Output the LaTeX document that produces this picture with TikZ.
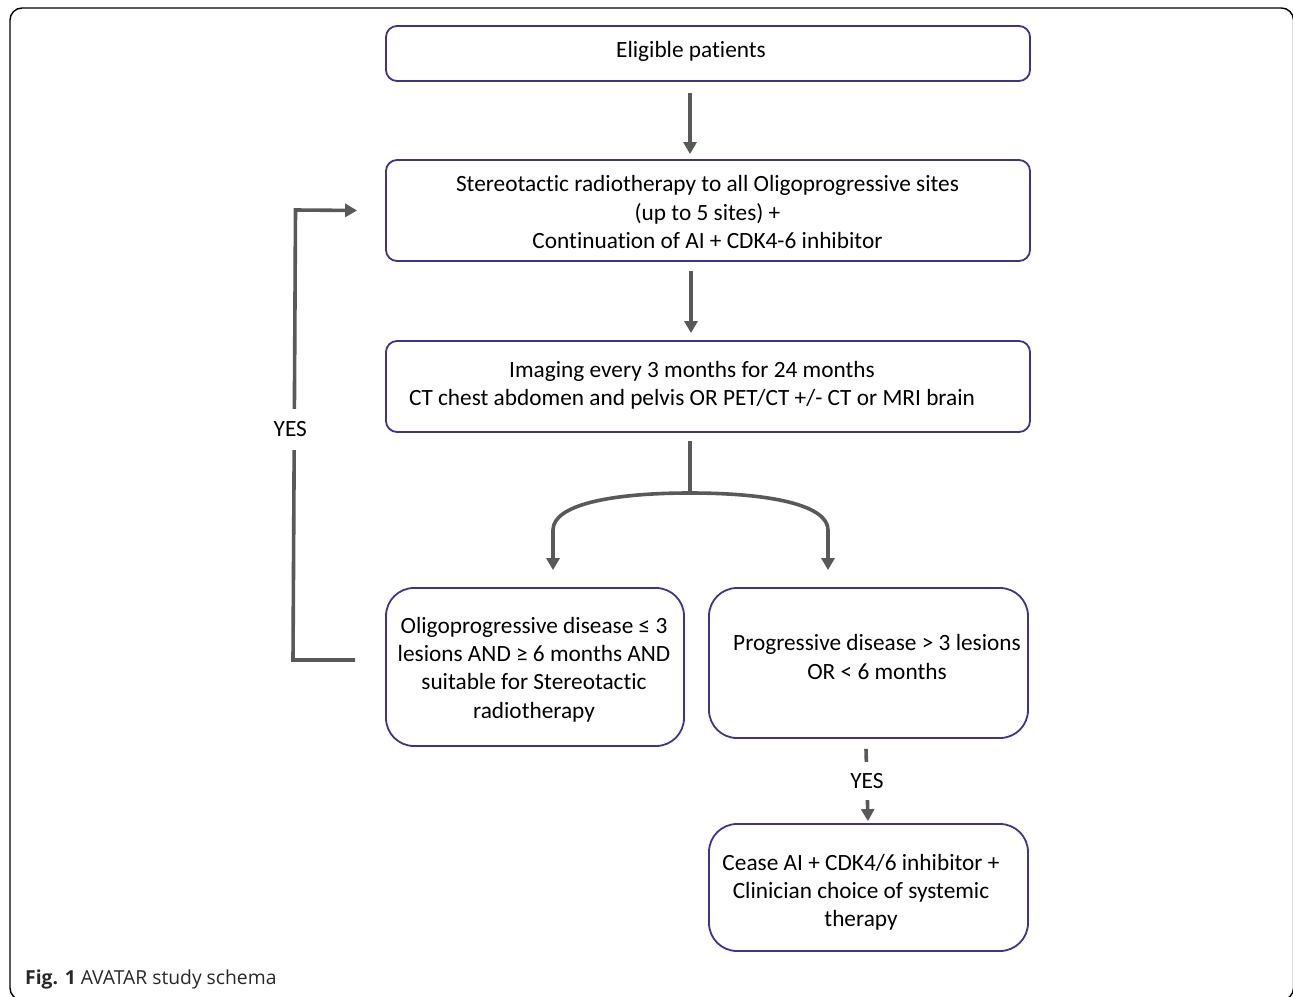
\documentclass[tikz,border=0pt]{standalone}
\usepackage{fontspec}
\setmainfont[Ligatures={NoCommon,NoContextual}]{Carlito}
\newfontfamily\capfont{Open Sans}
\usetikzlibrary{arrows.meta}
\definecolor{boxc}{RGB}{62,52,140}
\definecolor{arrc}{RGB}{89,89,89}
\definecolor{capc}{RGB}{40,40,40}
\begin{document}
\begin{tikzpicture}[x=1pt,y=-1pt,
  box/.style={draw=boxc, line width=1.8pt, rounded corners=11pt, inner sep=0pt},
  rbox/.style={box, rounded corners=28pt},
  txt/.style={align=center, inner sep=0pt, font=\fontsize{23.3}{28.2}\selectfont},
  arr/.style={draw=arrc, line width=3.6pt, -{Triangle[length=12pt,width=13pt]}},
  ln/.style={draw=arrc, line width=3.6pt},
  yes/.style={fill=white, inner xsep=2pt, inner ysep=13pt, font=\fontsize{23.3}{28.2}\selectfont}]
\useasboundingbox (0,0) rectangle (1293,996);
\clip (0,0) rectangle (1293,996);
% outer frame
\draw[black, line width=1.4pt, rounded corners=12pt] (10,8) rectangle (1293.5,1000);
% boxes
\node[box, minimum width=644pt, minimum height=55pt] (elig) at (708,53.5) {};
\node[box, minimum width=644pt, minimum height=101pt] (stereo) at (708,210.5) {};
\node[box, minimum width=644pt, minimum height=91pt] (img) at (708,386.5) {};
\node[rbox, minimum width=298pt, minimum height=158pt] (oligo) at (535,667) {};
\node[rbox, minimum width=319pt, minimum height=150pt] (prog) at (868.5,663) {};
\node[rbox, minimum width=319pt, minimum height=127pt] (cease) at (868.5,887.5) {};
% texts
\node[txt] (eligt) at (691,51) {Eligible patients};
\node[txt] (stereot) at (707.5,212) {Stereotactic radiotherapy to all Oligoprogressive sites\\(up to 5 sites) +\\Continuation of AI + CDK4-6 inhibitor};
\node[txt] (imgt) at (692,385) {Imaging every 3 months for 24 months\\CT chest abdomen and pelvis OR PET/CT +/- CT or MRI brain};
\node[txt] (oligot) at (534,669.5) {Oligoprogressive disease ≤ 3\\lesions AND ≥ 6 months AND\\suitable for Stereotactic\\radiotherapy};
\node[txt] (progt) at (877,657) {Progressive disease > 3 lesions\\OR < 6 months};
\node[txt] (ceaset) at (861,892.5) {Cease AI + CDK4/6 inhibitor +\\Clinician choice of systemic\\therapy};
% connectors
\draw[arr, shorten <=11pt, shorten >=5pt] (690,0 |- elig.south) -- (690,0 |- stereo.north);
\draw[arr, shorten <=9pt, shorten >=7pt] (691,0 |- stereo.south) -- (691,0 |- img.north);
\coordinate (split) at (690,493);
\coordinate (lbend) at (553,530);
\coordinate (rbend) at (828,530);
\draw[ln, shorten <=8pt] (690,0 |- img.south) -- (split);
\draw[arr, shorten >=17pt] (split) .. controls (610,493) and (553,505) .. (lbend) -- (553,0 |- oligo.north);
\draw[arr, shorten >=17pt] (split) .. controls (770,493) and (828,505) .. (rbend) -- (828,0 |- prog.north);
% feedback YES loop
\coordinate (fbs) at (355,660);
\coordinate (fb1) at (293,660);
\coordinate (fb2) at (295.5,210);
\draw[arr, line join=miter] (fbs) -- (fb1) -- node[yes, pos=0.513, xshift=-4pt]{YES} (fb2) -- ([xshift=-28pt]stereo.west);
% lower YES
\draw[arr] ([xshift=-2.5pt,yshift=-10pt]prog.south) -- node[yes, pos=0.446, inner ysep=11pt]{YES} ([xshift=-0.5pt,yshift=2pt]cease.north);
% caption
\node[anchor=base west, inner sep=0pt, text=capc, font=\capfont\fontsize{19.3}{22}\selectfont] (cap) at (25,984) {\textbf{Fig. 1} AVATAR study schema};
\end{tikzpicture}
\end{document}
